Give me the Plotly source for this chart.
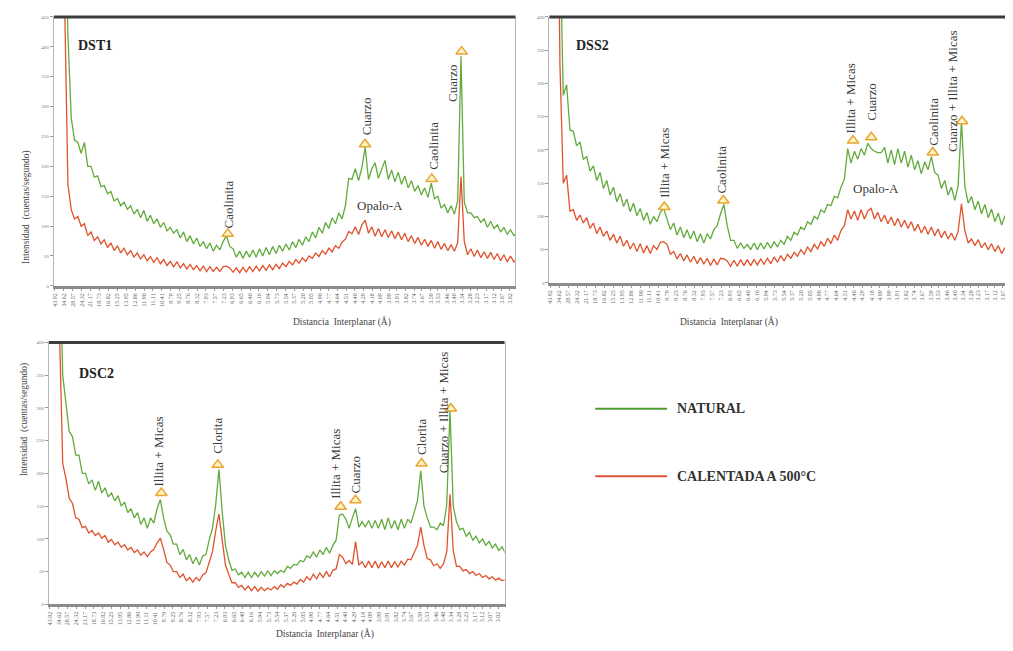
import math
import plotly.graph_objects as go

# ---------------- DATA ----------------
TWO_THETA = [
    2.0, 2.2, 2.4, 2.6, 2.8, 3.0, 3.2, 3.4, 3.6, 3.8,
    4.0, 4.2, 4.4, 4.6, 4.8, 5.0, 5.2, 5.4, 5.6, 5.8,
    6.0, 6.2, 6.4, 6.6, 6.8, 7.0, 7.2, 7.4, 7.6, 7.8,
    8.0, 8.2, 8.4, 8.6, 8.8, 9.0, 9.2, 9.4, 9.6, 9.8,
    10.0, 10.2, 10.4, 10.6, 10.8, 11.0, 11.2, 11.4, 11.6, 11.8,
    12.0, 12.2, 12.4, 12.6, 12.8, 13.0, 13.2, 13.4, 13.6, 13.8,
    14.0, 14.2, 14.4, 14.6, 14.8, 15.0, 15.2, 15.4, 15.6, 15.8,
    16.0, 16.2, 16.4, 16.6, 16.8, 17.0, 17.2, 17.4, 17.6, 17.8,
    18.0, 18.2, 18.4, 18.6, 18.8, 19.0, 19.2, 19.4, 19.6, 19.8,
    20.0, 20.2, 20.4, 20.6, 20.8, 21.0, 21.2, 21.4, 21.6, 21.8,
    22.0, 22.2, 22.4, 22.6, 22.8, 23.0, 23.2, 23.4, 23.6, 23.8,
    24.0, 24.2, 24.4, 24.6, 24.8, 25.0, 25.2, 25.4, 25.6, 25.8,
    26.0, 26.2, 26.4, 26.6, 26.8, 27.0, 27.2, 27.4, 27.6, 27.8,
    28.0, 28.2, 28.4, 28.6, 28.8, 29.0, 29.2, 29.4, 29.6, 29.8,
    30.0,
]

DST1_NATURAL = [
    1400, 1200, 950, 700, 420, 282, 244, 240, 222, 240,
    200, 200, 182, 184, 166, 168, 154, 158, 142, 146,
    134, 140, 128, 134, 120, 128, 114, 126, 108, 118,
    104, 112, 98, 106, 92, 98, 88, 94, 80, 90,
    74, 84, 70, 80, 66, 74, 62, 72, 58, 68,
    60, 74, 84, 66, 62, 48, 58, 46, 58, 48,
    60, 48, 62, 50, 64, 52, 66, 54, 68, 58,
    70, 60, 74, 64, 78, 68, 82, 74, 90, 80,
    98, 88, 106, 96, 114, 104, 122, 112, 134, 180,
    178, 196, 176, 198, 232, 178, 196, 206, 180, 196,
    210, 178, 194, 174, 190, 170, 184, 164, 176, 158,
    168, 152, 164, 148, 172, 146, 150, 130, 136, 122,
    134, 120, 142, 384, 140, 122, 122, 114, 116, 106,
    112, 98, 108, 96, 102, 90, 98, 86, 94, 84,
    88,
]
DST1_CALENTADA = [
    1400, 1100, 800, 520, 170, 128, 112, 116, 100, 104,
    84, 90, 76, 82, 70, 77, 64, 72, 59, 67,
    55, 63, 52, 59, 48, 55, 45, 52, 42, 49,
    39, 47, 37, 44, 34, 41, 32, 40, 30, 37,
    28, 36, 27, 34, 25, 33, 24, 32, 24, 31,
    24, 32, 33, 30, 23, 30, 22, 31, 23, 32,
    24, 33, 25, 34, 26, 35, 27, 36, 29, 38,
    32, 41, 35, 44, 38, 47, 41, 50, 46, 55,
    49, 59, 53, 63, 57, 67, 63, 73, 78, 91,
    87, 99, 86, 102, 110, 88, 99, 83, 96, 82,
    94, 81, 92, 79, 90, 77, 88, 74, 84, 71,
    81, 68, 78, 66, 76, 63, 74, 61, 71, 59,
    69, 58, 72, 183, 74, 52, 62, 49, 60, 47,
    57, 46, 56, 44, 54, 42, 52, 40, 50, 40,
    45,
]

DSS2_NATURAL = [
    1500, 1200, 900, 520, 282, 298, 230, 228, 206, 212,
    186, 190, 168, 176, 154, 166, 142, 154, 132, 144,
    122, 134, 115, 126, 107, 120, 101, 112, 94, 106,
    88, 100, 92, 106, 112, 94, 80, 90, 72, 84,
    68, 80, 66, 78, 62, 74, 60, 74, 66, 80,
    86, 104, 118, 86, 64, 64, 52, 60, 52, 58,
    50, 60, 50, 60, 51, 61, 52, 62, 54, 64,
    58, 70, 64, 76, 72, 84, 80, 92, 88, 100,
    96, 110, 106, 118, 116, 130, 128, 144, 156, 202,
    180, 198, 186, 202, 192, 210, 202, 198, 196, 196,
    204, 180, 200, 178, 202, 180, 198, 174, 192, 170,
    184, 164, 182, 170, 190, 166, 162, 142, 154, 132,
    144, 124, 146, 244, 146, 120, 130, 110, 123, 104,
    118, 98, 111, 92, 105, 87, 101, 83, 98, 82,
    90,
]
DSS2_CALENTADA = [
    1500, 1200, 800, 330, 150, 162, 108, 110, 94, 102,
    90, 98, 82, 90, 74, 84, 70, 78, 64, 73,
    60, 70, 55, 64, 51, 60, 47, 59, 45, 56,
    44, 56, 50, 61, 62, 58, 43, 47, 36, 44,
    33, 42, 31, 40, 29, 38, 28, 37, 26, 36,
    27, 37, 36, 33, 25, 34, 25, 35, 26, 35,
    26, 35, 27, 36, 28, 37, 29, 39, 31, 41,
    33, 43, 37, 46, 40, 50, 43, 54, 47, 58,
    51, 62, 55, 67, 59, 72, 64, 79, 86, 110,
    96, 108, 94, 110, 96, 108, 112, 96, 106, 92,
    102, 89, 99, 86, 97, 84, 94, 82, 92, 78,
    88, 75, 85, 73, 84, 71, 81, 68, 78, 66,
    75, 64, 77, 119, 79, 60, 66, 56, 65, 53,
    60, 50, 59, 47, 56, 44, 53, 41, 50, 40,
    45,
]

DSC2_NATURAL = [
    1500, 1200, 900, 560, 350, 304, 264, 256, 228, 228,
    200, 200, 184, 190, 174, 188, 170, 178, 164, 170,
    158, 166, 150, 156, 140, 146, 132, 140, 122, 132,
    116, 132, 124, 146, 160, 132, 112, 106, 92, 92,
    76, 84, 68, 76, 62, 72, 60, 74, 76, 98,
    116, 152, 206, 142, 90, 68, 52, 54, 45, 49,
    41, 49, 41, 49, 42, 50, 43, 51, 44, 51,
    47, 52, 49, 58, 55, 61, 60, 67, 65, 74,
    71, 80, 72, 83, 76, 87, 78, 90, 98, 136,
    138, 130, 116, 132, 146, 118, 126, 118, 128, 116,
    128, 116, 130, 114, 132, 116, 128, 114, 130, 116,
    130, 124, 140, 158, 204, 150, 132, 118, 118, 114,
    124, 120, 152, 296, 150, 126, 114, 116, 104, 110,
    98, 104, 94, 100, 90, 96, 86, 92, 82, 88,
    78,
]
DSC2_CALENTADA = [
    1500, 1200, 800, 420, 215, 192, 162, 154, 132, 130,
    117, 119, 109, 113, 105, 109, 101, 105, 95, 99,
    91, 95, 87, 91, 83, 87, 79, 83, 75, 80,
    73, 80, 84, 94, 101, 84, 64, 60, 50, 50,
    41, 46, 36, 41, 34, 41, 36, 45, 48, 64,
    80, 112, 138, 98, 60, 46, 33, 33, 26, 29,
    22, 28, 21, 27, 20, 26, 21, 25, 22, 27,
    23, 30, 26, 32, 29, 34, 31, 38, 34, 42,
    37, 46, 39, 48, 41, 50, 42, 52, 54, 76,
    72, 62, 67, 61, 96, 60, 65, 56, 66, 56,
    66, 55, 65, 56, 66, 56, 65, 57, 66, 60,
    69, 68, 78, 90, 118, 90, 70, 68, 59, 62,
    55, 62, 80, 168, 82, 58, 58, 51, 53, 47,
    50, 44, 47, 41, 44, 39, 42, 37, 40, 36,
    38,
]

# d-spacing tick labels (Angstrom)
D_TICKS = ["43.92", "34.62", "28.57", "24.32", "21.17", "18.73", "16.82", "15.25",
           "13.95", "12.86", "11.90", "11.11", "10.41", "9.79", "9.25", "8.76",
           "8.32", "7.93", "7.57", "7.23", "6.93", "6.65", "6.40", "6.16", "5.94",
           "5.73", "5.54", "5.37", "5.20", "5.05", "4.90", "4.77", "4.64", "4.51",
           "4.40", "4.29", "4.18", "4.09", "3.99", "3.91", "3.82", "3.74", "3.67",
           "3.59", "3.53", "3.46", "3.40", "3.34", "3.28", "3.23", "3.17", "3.12",
           "3.07", "3.02"]

# peak labels: (text, 2theta, intensity) and marker triangles (2theta, intensity)
DST1_LABELS = [("Caolinita", 12.58, 137), ("Cuarzo", 20.85, 284),
               ("Caolinita", 24.89, 234), ("Cuarzo", 26.1, 339)]
DST1_TRI_X = [12.48, 20.79, 24.83, 26.64]
DST1_TRI_Y = [87, 237, 179, 392]

DSS2_LABELS = [("Illita + Micas", 8.84, 181), ("Caolinita", 12.27, 170),
               ("Illita + Micas", 19.98, 277), ("Cuarzo", 21.21, 273),
               ("Caolinita", 24.92, 243), ("Cuarzo + Illita + Micas", 26.07, 288)]
DSS2_TRI_X = [8.84, 12.37, 20.12, 21.21, 24.88, 26.63]
DSS2_TRI_Y = [114, 124, 214, 219, 196, 243]

DSC2_LABELS = [("Illita + Micas", 8.70, 233), ("Clorita", 12.27, 257),
               ("Illita + Micas", 19.57, 214), ("Cuarzo", 20.79, 199),
               ("Clorita", 24.85, 255), ("Cuarzo + Illita + Micas", 26.2, 294)]
DSC2_TRI_X = [8.86, 12.33, 19.88, 20.79, 24.85, 26.65]
DSC2_TRI_Y = [170, 213, 149, 159, 215, 299]

OPALO = {"DST1": (21.69, 134), "DSS2": (21.5, 142)}

# ---------------- STYLE ----------------
GREEN = "#62ab3c"
RED = "#e0522c"
SERIF = "Liberation Serif"
LAMBDA = 1.5406  # Cu K-alpha

# the page puts the figure 8 px in from the window corner
OFF = 8
W, H = 1013 - OFF, 651 - OFF


def px(x):
    return (x - OFF) / W


def py(y):
    return 1 - (y - OFF) / H


tickvals = [2 * math.degrees(math.asin(LAMBDA / (2 * float(d)))) for d in D_TICKS]

fig = go.Figure()

panels = [
    ("DST1", "x", "y", DST1_NATURAL, DST1_CALENTADA, DST1_LABELS, DST1_TRI_X, DST1_TRI_Y,
     [px(52), px(515)], [py(286), py(15)], [1.95, 29.9], [0, 450], (3.26, 402)),
    ("DSS2", "x2", "y2", DSS2_NATURAL, DSS2_CALENTADA, DSS2_LABELS, DSS2_TRI_X, DSS2_TRI_Y,
     [px(549), 1.0], [py(283), py(15)], [1.97, 29.62], [0, 400], (3.44, 357)),
    ("DSC2", "x3", "y3", DSC2_NATURAL, DSC2_CALENTADA, DSC2_LABELS, DSC2_TRI_X, DSC2_TRI_Y,
     [px(47), px(504)], [py(607), py(343)], [1.95, 29.95], [0, 400], (3.70, 353)),
]

annotations = []
shapes = []
layout_axes = {}

for (name, xa, ya, nat, cal, labels, trix, triy, xdom, ydom, xr, yr, npos) in panels:
    fig.add_trace(go.Scatter(x=TWO_THETA, y=nat, mode="lines", xaxis=xa, yaxis=ya,
                             line=dict(color=GREEN, width=1.3), showlegend=False))
    fig.add_trace(go.Scatter(x=TWO_THETA, y=cal, mode="lines", xaxis=xa, yaxis=ya,
                             line=dict(color=RED, width=1.3), showlegend=False))
    fig.add_trace(go.Scatter(x=trix, y=triy, mode="markers", xaxis=xa, yaxis=ya,
                             marker=dict(symbol="triangle-up", size=10, color="#fff3c2",
                                         line=dict(color="#e9a431", width=1.5)),
                             showlegend=False, cliponaxis=False))
    for (txt, lx, ly) in labels:
        annotations.append(dict(x=lx, y=ly, xref=xa, yref=ya, text=txt, textangle=-90,
                                showarrow=False, xanchor="center", yanchor="middle",
                                font=dict(family=SERIF, size=13, color="#3a3a3a")))
    if name in OPALO:
        ox, oy = OPALO[name]
        annotations.append(dict(x=ox, y=oy, xref=xa, yref=ya, text="Opalo-A", showarrow=False,
                                font=dict(family=SERIF, size=13, color="#3a3a3a")))
    annotations.append(dict(x=npos[0], y=npos[1], xref=xa, yref=ya, text="<b>%s</b>" % name,
                            showarrow=False, xanchor="left", yanchor="middle",
                            font=dict(family=SERIF, size=14, color="#222222")))
    key = xa.replace("x", "xaxis")
    ykey = ya.replace("y", "yaxis")
    layout_axes[key] = dict(domain=xdom, range=xr, anchor=ya, tickmode="array",
                            tickvals=tickvals, ticktext=D_TICKS, tickangle=-90,
                            tickfont=dict(family=SERIF, size=6, color="#666666"),
                            ticks="outside", ticklen=2, tickcolor="#999999",
                            showline=True, linecolor="#8c8c8c", linewidth=3,
                            showgrid=False, zeroline=False, fixedrange=True)
    layout_axes[ykey] = dict(domain=ydom, range=yr, anchor=xa, dtick=50,
                             tickfont=dict(family=SERIF, size=5, color="#777777"),
                             ticks="outside", ticklen=3, tickcolor="#999999",
                             showline=True, linecolor="#b5b5b5", linewidth=1, mirror=True,
                             showgrid=False, zeroline=False, fixedrange=True)
    shapes.append(dict(type="line", xref="paper", yref="paper", x0=xdom[0], x1=xdom[1],
                       y0=ydom[1], y1=ydom[1], line=dict(color="#3c3c3c", width=3)))

xtitle = "Distancia  Interplanar (Å)"
ytitle = "Intensidad  (cuentas/segundo)"
for (tx, ty) in [(290, 322), (780, 322), (273, 645)]:
    annotations.append(dict(x=px(tx), y=py(ty), xref="paper", yref="paper", text=xtitle,
                            showarrow=False,
                            font=dict(family=SERIF, size=9.5, color="#444444")))
for (tx, ty) in [(17, 148), (15, 480)]:
    annotations.append(dict(x=px(tx), y=py(ty), xref="paper", yref="paper", text=ytitle,
                            textangle=-90, showarrow=False,
                            font=dict(family=SERIF, size=9.5, color="#444444")))

for (ly, col, txt) in [(410, "#4f9a35", "NATURAL"), (478, "#e0553a", "CALENTADA A 500°C")]:
    shapes.append(dict(type="line", xref="paper", yref="paper", x0=px(595), x1=px(667),
                       y0=py(ly), y1=py(ly), line=dict(color=col, width=2)))
    annotations.append(dict(x=px(675), y=py(ly), xref="paper", yref="paper",
                            text="<b>%s</b>" % txt, showarrow=False,
                            xanchor="left", yanchor="middle",
                            font=dict(family=SERIF, size=14, color="#333333")))

fig.update_layout(width=W, height=H, margin=dict(l=0, r=0, t=0, b=0),
                  paper_bgcolor="white", plot_bgcolor="white", showlegend=False,
                  annotations=annotations, shapes=shapes, **layout_axes)

fig.write_html("out.html")
